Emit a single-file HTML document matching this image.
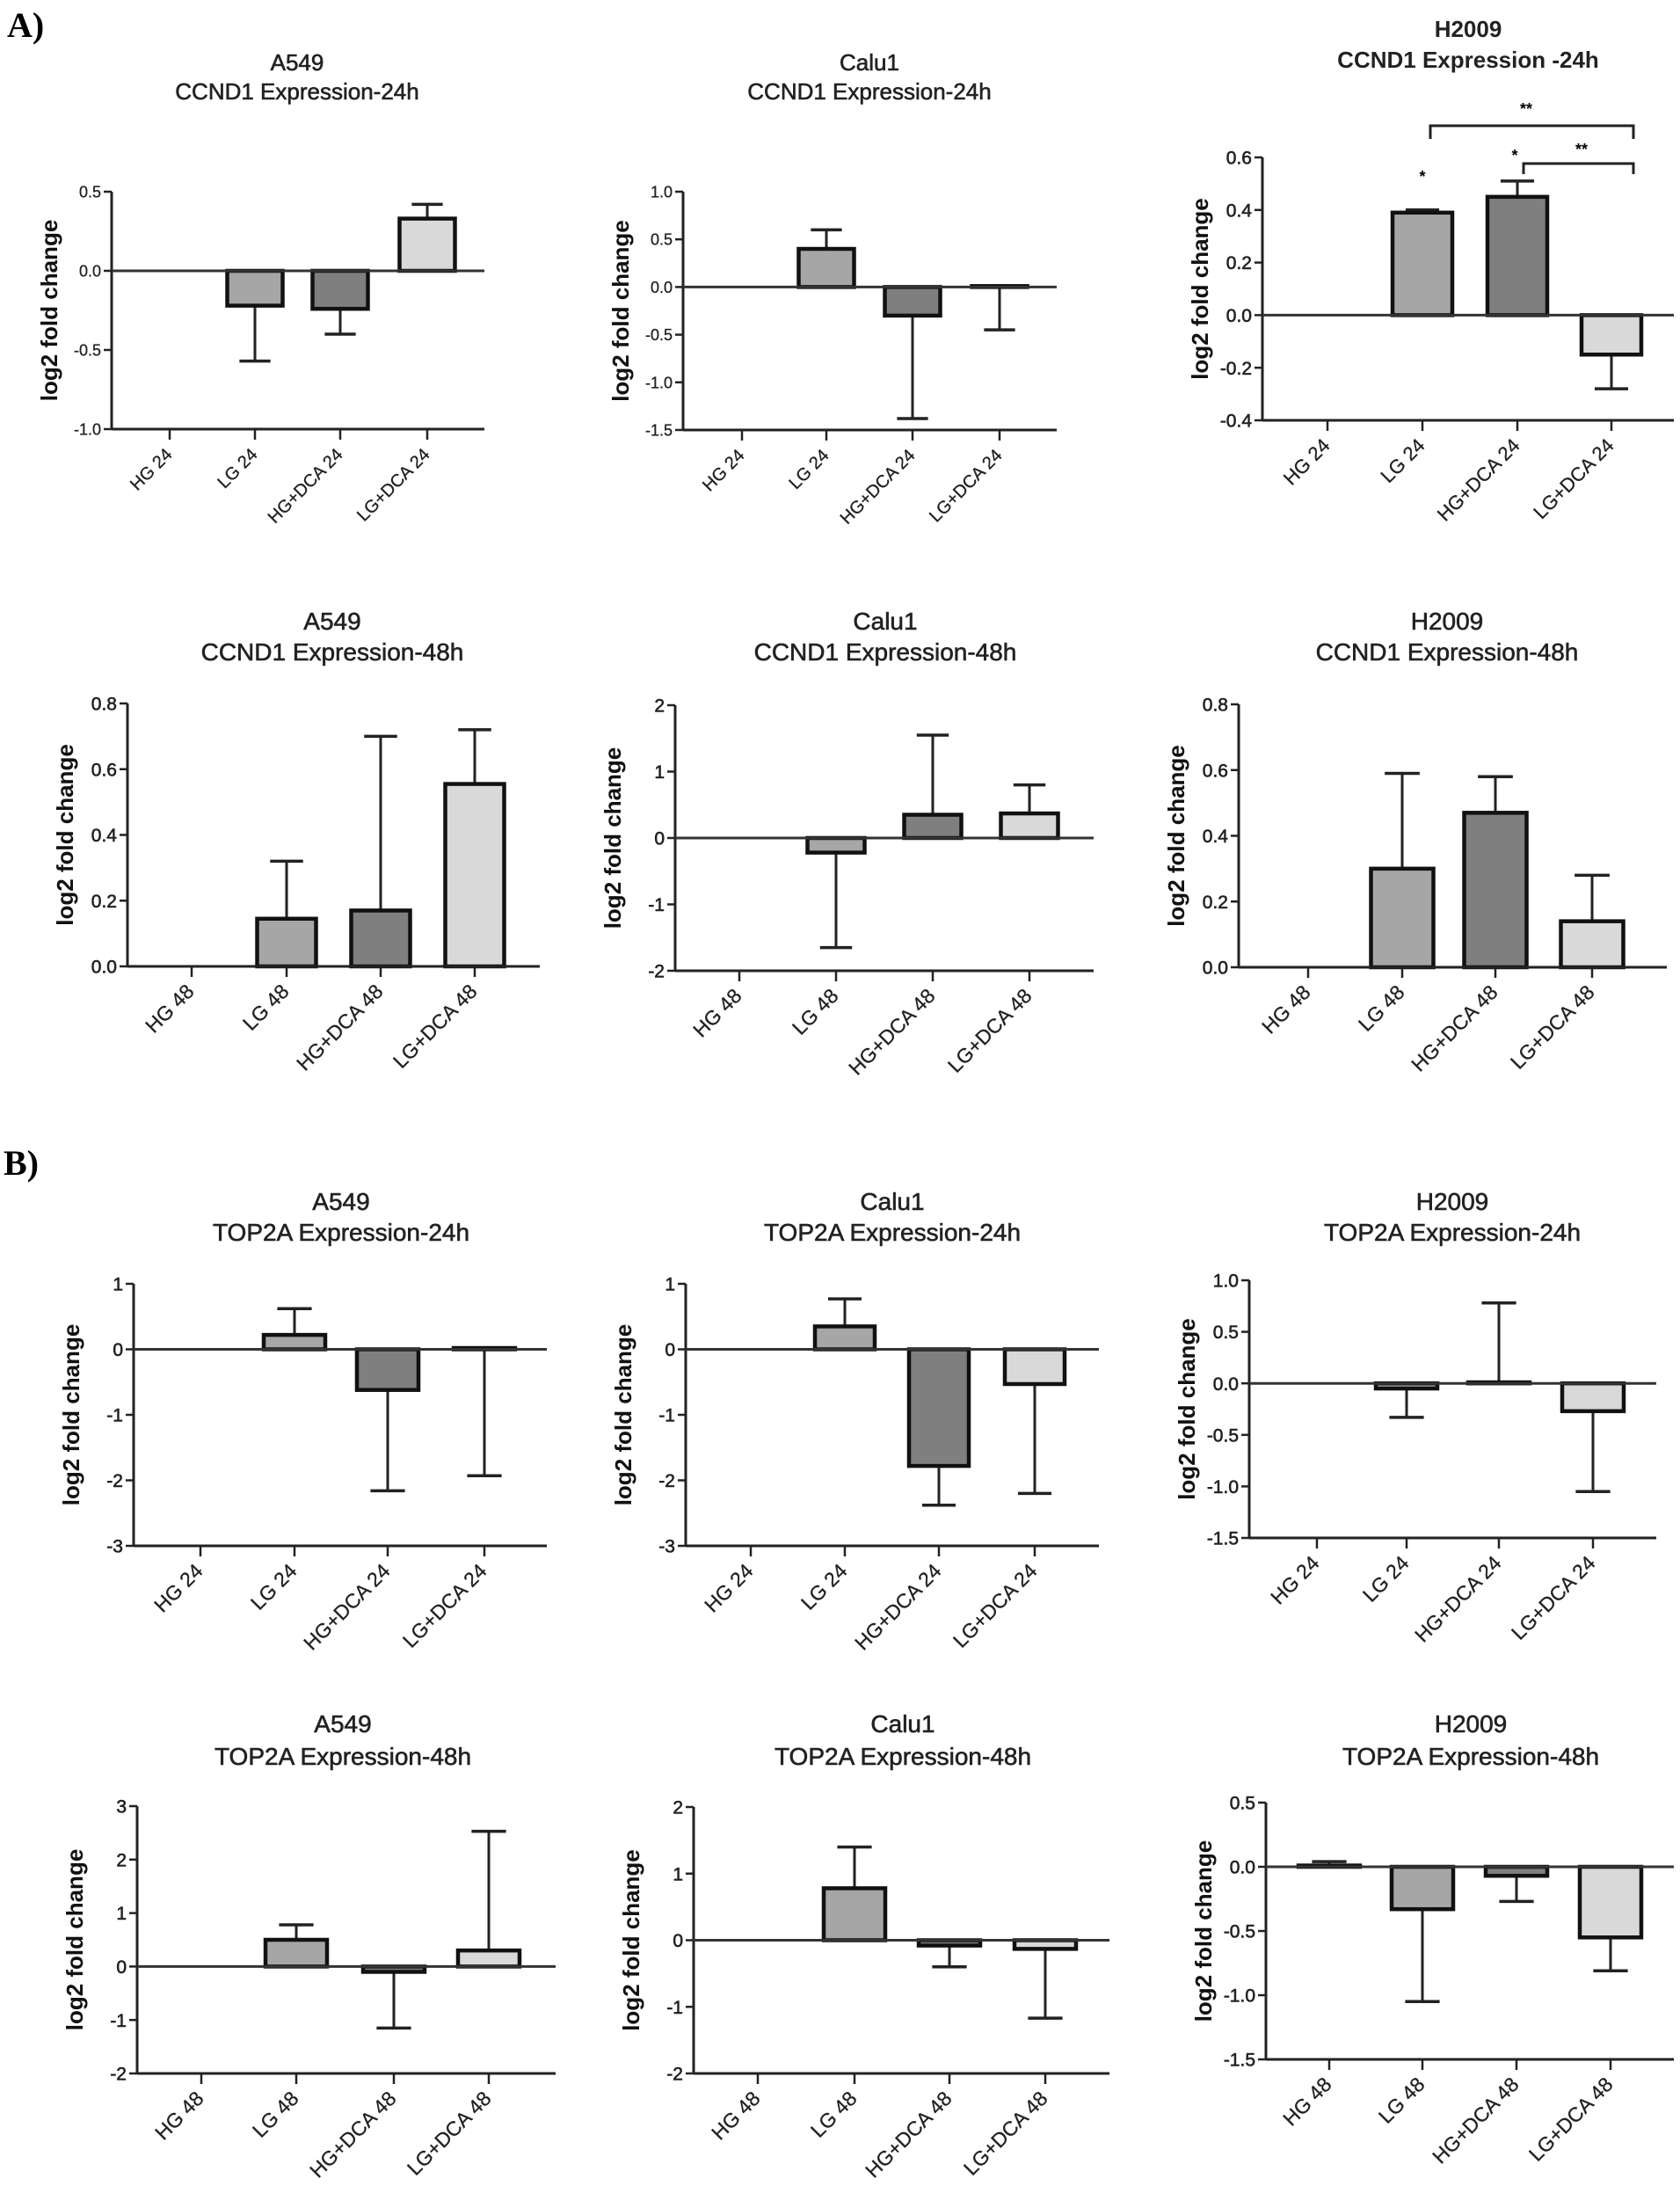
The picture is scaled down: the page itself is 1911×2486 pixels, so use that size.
<!DOCTYPE html>
<html><head><meta charset="utf-8">
<style>
html,body{margin:0;padding:0;background:#fff;}
svg{display:block;}
</style></head>
<body>
<svg id="s" xmlns="http://www.w3.org/2000/svg" width="1911" height="2486" viewBox="0 0 1911 2486">
<rect width="1911" height="2486" fill="#fff"/>
<text x="8" y="42" font-family="Liberation Serif, serif" font-weight="bold" font-size="40">A)</text>
<text x="4" y="1336" font-family="Liberation Serif, serif" font-weight="bold" font-size="40">B)</text>
</svg>
<script>
(function(){
var NS="http://www.w3.org/2000/svg",s=document.getElementById('s');
function el(t,a,txt){var e=document.createElementNS(NS,t);for(var k in a)e.setAttribute(k,a[k]);if(txt!==undefined)e.textContent=txt;s.appendChild(e);return e;}
var F="Liberation Sans, Arial, sans-serif";
var cols=["#555","#a6a6a6","#7f7f7f","#d9d9d9"];
var C=[
{ax:127,r:551,top:218,bot:488,max:.5,min:-1,step:.5,dec:1,tx:[193,290,387,486],bw:63,v:[0,-.22,-.24,.33],e:[null,-.57,-.40,.42],t:["A549","CCND1 Expression-24h"],cx:338,ty:[80,113],tf:26,tb:0,fs:18,cf:20,suf:"24"},
{ax:777,r:1202,top:218,bot:489,max:1,min:-1.5,step:.5,dec:1,tx:[844,940,1038,1137],bw:63,v:[0,.4,-.3,.01],e:[null,.6,-1.38,-.45],t:["Calu1","CCND1 Expression-24h"],cx:989,ty:[80,113],tf:26,tb:0,fs:18,cf:20,suf:"24"},
{ax:1436,r:1904,top:179,bot:478,max:.6,min:-.4,step:.2,dec:1,tx:[1510,1618,1726,1833],bw:68,v:[0,.39,.45,-.15],e:[null,.40,.51,-.28],t:["H2009","CCND1 Expression -24h"],cx:1670,ty:[42,77],tf:26,tb:1,fs:21,cf:22,suf:"24"},
{ax:145,r:614,top:800,bot:1099,max:.8,min:0,step:.2,dec:1,tx:[218,326,433,540],bw:67,v:[0,.145,.17,.555],e:[null,.32,.70,.72],t:["A549","CCND1 Expression-48h"],cx:378,ty:[716,751],tf:28,tb:0,fs:21,cf:23,suf:"48"},
{ax:768,r:1244,top:802,bot:1104,max:2,min:-2,step:1,dec:0,tx:[841,951,1061,1171],bw:65,v:[0,-.22,.35,.37],e:[null,-1.65,1.55,.8],t:["Calu1","CCND1 Expression-48h"],cx:1007,ty:[716,751],tf:28,tb:0,fs:21,cf:23,suf:"48"},
{ax:1409,r:1896,top:801,bot:1100,max:.8,min:0,step:.2,dec:1,tx:[1488,1595,1701,1811],bw:71,v:[0,.3,.47,.14],e:[null,.59,.58,.28],t:["H2009","CCND1 Expression-48h"],cx:1646,ty:[716,751],tf:28,tb:0,fs:21,cf:23,suf:"48"},
{ax:152,r:622,top:1460,bot:1758,max:1,min:-3,step:1,dec:0,tx:[228,335,441,551],bw:70,v:[0,.22,-.62,.02],e:[null,.62,-2.16,-1.93],t:["A549","TOP2A Expression-24h"],cx:388,ty:[1376,1411],tf:28,tb:0,fs:21,cf:23,suf:"24"},
{ax:780,r:1250,top:1460,bot:1758,max:1,min:-3,step:1,dec:0,tx:[854,961,1068,1177],bw:68,v:[0,.35,-1.78,-.53],e:[null,.77,-2.38,-2.2],t:["Calu1","TOP2A Expression-24h"],cx:1015,ty:[1376,1411],tf:28,tb:0,fs:21,cf:23,suf:"24"},
{ax:1421,r:1884,top:1456,bot:1749,max:1,min:-1.5,step:.5,dec:1,tx:[1498,1600,1705,1812],bw:70,v:[0,-.05,.01,-.27],e:[null,-.33,.78,-1.05],t:["H2009","TOP2A Expression-24h"],cx:1652,ty:[1376,1411],tf:28,tb:0,fs:21,cf:23,suf:"24"},
{ax:156,r:632,top:2054,bot:2358,max:3,min:-2,step:1,dec:0,tx:[229,337,448,556],bw:70,v:[0,.5,-.1,.3],e:[null,.78,-1.15,2.53],t:["A549","TOP2A Expression-48h"],cx:390,ty:[1970,2007],tf:28,tb:0,fs:21,cf:23,suf:"48"},
{ax:789,r:1262,top:2055,bot:2358,max:2,min:-2,step:1,dec:0,tx:[862,972,1080,1189],bw:70,v:[0,.78,-.08,-.13],e:[null,1.4,-.4,-1.17],t:["Calu1","TOP2A Expression-48h"],cx:1027,ty:[1970,2007],tf:28,tb:0,fs:21,cf:23,suf:"48"},
{ax:1440,r:1904,top:2050,bot:2342,max:.5,min:-1.5,step:.5,dec:1,tx:[1512,1618,1725,1832],bw:70,v:[.01,-.33,-.07,-.55],e:[.04,-1.05,-.27,-.81],t:["H2009","TOP2A Expression-48h"],cx:1673,ty:[1970,2007],tf:28,tb:0,fs:21,cf:23,suf:"48"}
];
C.forEach(function(c){
  function Y(v){return c.bot-(v-c.min)/(c.max-c.min)*(c.bot-c.top);}
  var tw=c.tb?"bold":"normal";
  var ta={'text-anchor':'middle','font-family':F,'font-size':c.tf,'font-weight':tw,fill:'#222',stroke:'#222','stroke-width':c.tb?0:0.6};
  var a1=Object.assign({x:c.cx,y:c.ty[0]},ta), a2=Object.assign({x:c.cx,y:c.ty[1]},ta);
  el('text',a1,c.t[0]); el('text',a2,c.t[1]);
  var ly=(c.top+c.bot)/2, lx=c.ax-62;
  el('text',{x:lx,y:ly,transform:'rotate(-90 '+lx+' '+ly+')','text-anchor':'middle','font-family':F,'font-size':26,'font-weight':'bold',fill:'#111'},'log2 fold change');
  for(var v=c.min;v<=c.max+1e-9;v+=c.step){
    var y=Y(v);
    el('line',{x1:c.ax-9,y1:y,x2:c.ax,y2:y,stroke:'#222','stroke-width':2.5});
    var lab=(Math.abs(v)<1e-9?0:v).toFixed(c.dec);
    el('text',{x:c.ax-12,y:y+c.fs*0.36,'text-anchor':'end','font-family':F,'font-size':c.fs,fill:'#222',stroke:'#222','stroke-width':c.fs>19?0.6:0.3},lab);
  }
  var y0=Y(0);
  for(var i=0;i<4;i++){
    var val=c.v[i],x=c.tx[i];
    if(c.e[i]!==null){
      var ye=Y(c.e[i]),yv=Y(val);
      el('line',{x1:x,y1:yv,x2:x,y2:ye,stroke:'#222','stroke-width':3});
      el('line',{x1:x-c.bw*0.28,y1:ye,x2:x+c.bw*0.28,y2:ye,stroke:'#222','stroke-width':3.5});
    }
    if(val!==0){
      var yv2=Y(val),ya=Math.min(yv2,y0),h=Math.abs(yv2-y0);
      el('rect',{x:x-c.bw/2,y:ya,width:c.bw,height:Math.max(h,1),fill:cols[i],stroke:'#111','stroke-width':4.5});
    }
    el('line',{x1:x,y1:c.bot,x2:x,y2:c.bot+12,stroke:'#222','stroke-width':2.5});
    var names=["HG ","LG ","HG+DCA ","LG+DCA "];
    var lx2=x+4,ly2=c.bot+30;
    el('text',{x:lx2,y:ly2,transform:'rotate(-45 '+lx2+' '+ly2+')','text-anchor':'end','font-family':F,'font-size':c.cf,fill:'#222',stroke:'#222','stroke-width':0.3},names[i]+c.suf);
  }
  el('line',{x1:c.ax,y1:c.top,x2:c.ax,y2:c.bot,stroke:'#222','stroke-width':3});
  el('line',{x1:c.ax,y1:c.bot,x2:c.r,y2:c.bot,stroke:'#222','stroke-width':3});
  if(c.min<0) el('line',{x1:c.ax,y1:y0,x2:c.r,y2:y0,stroke:'#333','stroke-width':3});
});
function br(x1,x2,y,yl){el('path',{d:'M'+x1+' '+yl+' L'+x1+' '+y+' L'+x2+' '+y+' L'+x2+' '+yl,fill:'none',stroke:'#222','stroke-width':3});}
br(1627,1858,143,158);
br(1733,1858,186,198);
el('text',{x:1736,y:130,'text-anchor':'middle','font-family':F,'font-size':18,'font-weight':'bold'},'**');
el('text',{x:1799,y:176,'text-anchor':'middle','font-family':F,'font-size':18,'font-weight':'bold'},'**');
el('text',{x:1618,y:207,'text-anchor':'middle','font-family':F,'font-size':18,'font-weight':'bold'},'*');
el('text',{x:1723,y:183,'text-anchor':'middle','font-family':F,'font-size':18,'font-weight':'bold'},'*');
})();
</script>
</body></html>
